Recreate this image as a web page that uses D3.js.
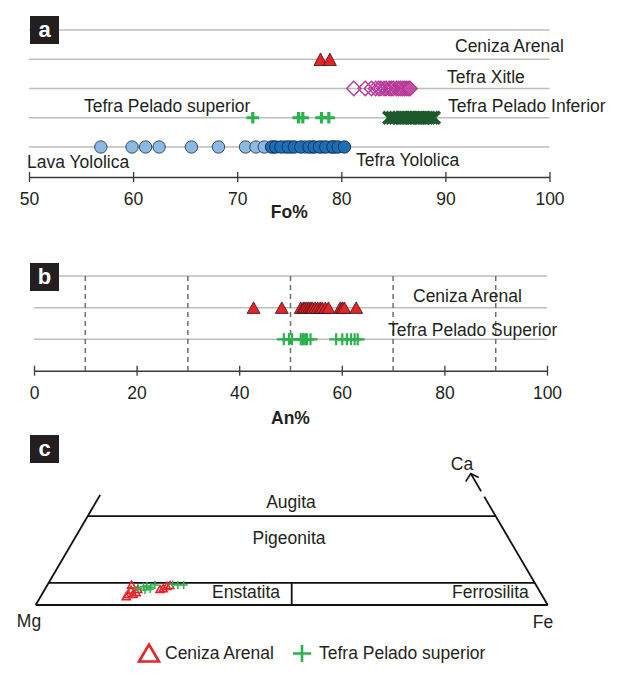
<!DOCTYPE html>
<html>
<head>
<meta charset="utf-8">
<script src="https://cdn.jsdelivr.net/npm/d3@7"></script>
<style>
  body { margin: 0; background: #fff; }
  svg text { font-family: "Liberation Sans", Arial, sans-serif; fill: #231f20; }
</style>
</head>
<body>
<script>
"use strict"

/* global d3 */

// panel a: olivine Fo%
const rowsFo  = ["top", "Ceniza Arenal", "Tefra Xitle", "Tefra Pelado", "Yololica"]
const ticksFo = [50, 60, 70, 80, 90, 100]

const foCenizaArenal   = [78.0, 78.9]
const foTefraXitle     = [81.2, 82.3, 82.9, 83.3, 83.6, 83.8, 84.1, 84.3, 84.6, 84.8, 85.0, 85.3, 85.5, 85.7, 85.9, 86.1, 86.3, 86.5, 86.6]
const foPeladoSuperior = [71.5, 75.9, 76.3, 78.1, 78.8]
const foPeladoInferior = [84.6, 84.9, 85.2, 85.5, 85.8, 86.0, 86.3, 86.6, 86.8, 87.1, 87.4, 87.6, 87.9, 88.2, 88.4, 88.7, 88.9]
const foLavaYololica   = [56.9, 59.9, 61.2, 62.5, 65.6, 68.2, 70.8, 71.8, 72.6, 73.5, 74.6, 75.2, 76.5, 77.2, 78.2, 79.0, 79.4]
const foTefraYololica  = [73.3, 73.7, 74.2, 74.9, 75.5, 76.1, 76.9, 77.4, 77.9, 78.5, 79.2, 79.7, 80.3]

// panel b: plagioclase An%
const rowsAn   = ["top", "Ceniza Arenal", "Tefra Pelado Superior"]
const ticksAn  = [0, 20, 40, 60, 80, 100]
const dashesAn = [10, 30, 50, 70, 90]

const anCenizaArenal   = [42.8, 48.3, 52.0, 52.5, 52.8, 53.2, 53.6, 54.0, 54.3, 54.8, 55.3, 55.8, 56.2, 56.8, 57.4, 59.7, 60.1, 60.5, 62.8]
const anPeladoSuperior = [48.7, 49.7, 50.3, 52.0, 52.4, 52.6, 53.0, 53.2, 53.9, 58.9, 60.1, 61.0, 61.8, 62.5, 63.1]

// panel c: pyroxene quadrilateral, [Wo %, Fe/(Mg+Fe)]
const woLevels = [0, 5, 20]
const pxCenizaArenal = [[2.5, 0.172], [3.4, 0.175], [2.5, 0.182], [4.6, 0.172], [2.9, 0.187], [2.0, 0.170], [3.6, 0.188],
                        [3.8, 0.239], [4.3, 0.245], [4.5, 0.251], [3.6, 0.233]]
const pxPeladoSuperior = [[3.8, 0.188], [4.1, 0.198], [4.3, 0.204], [4.0, 0.213], [4.5, 0.220], [3.4, 0.203], [3.6, 0.213],
                          [4.7, 0.256], [4.5, 0.267], [4.5, 0.279]]

// colours
const red       = "#e42528"
const magenta   = "#b8399a"
const green     = "#2bb24c"
const darkGreen = "#1c5a2c"
const lightBlue = "#8bb9e2"
const darkBlue  = "#1c6eb6"
const ink       = "#231f20"

// marker shapes
const tri     = (w, h) => `M0,${-h / 2}L${w / 2},${h / 2}L${-w / 2},${h / 2}Z`
const plus    = (w, h) => `M${-w / 2},0H${w / 2}M0,${-h / 2}V${h / 2}`
const cross   = s => `M${-s},${-s}L${s},${s}M${-s},${s}L${s},${-s}`
const diamond = s => `M0,${-s}L${s},0L0,${s}L${-s},0Z`

const translate = (x, y) => `translate(${x} ${y})`

const svg = d3.select("body").append("svg")
  .attr("width", 617)
  .attr("height", 676)

const label = (txt, x, y, anchor = "start", size = 17.5, weight = "normal") =>
  svg.append("text")
    .attr("x", x).attr("y", y)
    .attr("text-anchor", anchor)
    .attr("font-size", size)
    .attr("font-weight", weight)
    .text(txt)

const panelBox = (letter, x, y) => {
  svg.append("rect").attr("x", x).attr("y", y).attr("width", 29).attr("height", 28).attr("fill", ink)
  svg.append("text")
    .attr("x", x + 14.5).attr("y", y + 21)
    .attr("text-anchor", "middle")
    .attr("font-size", 22)
    .attr("font-weight", "bold")
    .style("fill", "#fff")
    .text(letter)
}

const bottomAxis = (scale, ticks, y) => {
  const g = svg.append("g")
    .attr("transform", translate(0, y))
    .call(d3.axisBottom(scale).tickValues(ticks).tickSizeOuter(0).tickFormat(d3.format("d")))
  g.select(".domain").attr("stroke", "#3a3a3a").attr("stroke-width", 1.5)
  g.selectAll(".tick line").attr("y1", -5).attr("y2", 5).attr("stroke", "#3a3a3a").attr("stroke-width", 1.3)
  g.selectAll(".tick text").attr("y", 28).attr("dy", null).attr("font-size", 17.5)
    .attr("font-family", "Liberation Sans, Arial, sans-serif").attr("fill", ink)
  return g
}

const marks = (values, x, y, path, style) =>
  svg.append("g").selectAll("path")
    .data(values)
    .enter()
    .append("path")
    .attr("d", path)
    .attr("transform", d => translate(x(d), y))
    .attr("fill", style.fill || "none")
    .attr("stroke", style.stroke)
    .attr("stroke-width", style.width || 1)

// ---------------- panel a ----------------
const xa = d3.scaleLinear().domain([50, 100]).range([29, 549.5])
const ya = d3.scalePoint().domain(rowsFo).range([30, 147])

svg.append("g").selectAll("line")
  .data(rowsFo)
  .enter()
  .append("line")
  .attr("x1", xa(50)).attr("x2", xa(100))
  .attr("y1", d => ya(d)).attr("y2", d => ya(d))
  .attr("stroke", "#bdbdbd").attr("stroke-width", 1.5)

panelBox("a", 30, 16)
bottomAxis(xa, ticksFo, 177)
label("Fo%", (xa(50) + xa(100)) / 2, 218, "middle", 17.5, "bold")

label("Ceniza Arenal", 455, 52)
label("Tefra Xitle", 447, 83)
label("Tefra Pelado Inferior", 448, 112)
label("Tefra Pelado superior", 84, 112)
label("Lava Yololica", 27, 168)
label("Tefra Yololica", 356, 166)

marks(foCenizaArenal, xa, ya("Ceniza Arenal"), tri(13, 12.5), { fill : red, stroke : "#3b1111", width : 0.8 })
marks(foTefraXitle, xa, ya("Tefra Xitle"), diamond(7.2), { stroke : magenta, width : 1.4 })
marks(foPeladoSuperior, xa, ya("Tefra Pelado"), plus(12.5, 11.5), { stroke : green, width : 3.2 })
marks(foPeladoInferior, xa, ya("Tefra Pelado"), cross(6), { stroke : darkGreen, width : 3.2 })

svg.append("g").selectAll("circle")
  .data(foLavaYololica)
  .enter()
  .append("circle")
  .attr("cx", d => xa(d)).attr("cy", ya("Yololica")).attr("r", 6.2)
  .attr("fill", lightBlue).attr("stroke", "#2a3f55").attr("stroke-width", 0.9)

svg.append("g").selectAll("circle")
  .data(foTefraYololica)
  .enter()
  .append("circle")
  .attr("cx", d => xa(d)).attr("cy", ya("Yololica")).attr("r", 6.2)
  .attr("fill", darkBlue).attr("stroke", "#0d2a45").attr("stroke-width", 0.9)

// ---------------- panel b ----------------
const xb = d3.scaleLinear().domain([0, 100]).range([34, 547])
const yb = d3.scalePoint().domain(rowsAn).range([276, 339.3])
const axisB = 370.7

svg.append("g").selectAll("line")
  .data(rowsAn)
  .enter()
  .append("line")
  .attr("x1", xb(0)).attr("x2", xb(100))
  .attr("y1", d => yb(d)).attr("y2", d => yb(d))
  .attr("stroke", "#bdbdbd").attr("stroke-width", 1.5)

svg.append("g").selectAll("line")
  .data(dashesAn)
  .enter()
  .append("line")
  .attr("x1", d => xb(d)).attr("x2", d => xb(d))
  .attr("y1", yb("top")).attr("y2", axisB)
  .attr("stroke", "#6e6e6e").attr("stroke-width", 1.5)
  .attr("stroke-dasharray", "5,4")

panelBox("b", 30, 263)
bottomAxis(xb, ticksAn, axisB)
label("An%", (xb(0) + xb(100)) / 2, 424, "middle", 17.5, "bold")

label("Ceniza Arenal", 413, 302)
label("Tefra Pelado Superior", 388, 336)

marks(anCenizaArenal, xb, yb("Ceniza Arenal"), tri(13, 11.5), { fill : red, stroke : "#3b1111", width : 0.8 })
marks(anPeladoSuperior, xb, yb("Tefra Pelado Superior"), plus(14, 12), { stroke : green, width : 2.2 })

// ---------------- panel c ----------------
const yc     = d3.scaleLinear().domain([0, 25]).range([605, 494])
const leftC  = d3.scaleLinear().domain([0, 25]).range([35.7, 100.7])
const rightC = d3.scaleLinear().domain([0, 25]).range([547.7, 482.7])
const quad   = ([wo, fe]) => [leftC(wo) + fe * (rightC(wo) - leftC(wo)), yc(wo)]
const lineC  = d3.line().x(d => quad(d)[0]).y(d => quad(d)[1])

panelBox("c", 30, 435)

const outline = svg.append("g")
  .attr("fill", "none")
  .attr("stroke", "#111")
  .attr("stroke-width", 1.8)

woLevels.forEach(wo => outline.append("path").attr("d", lineC([[wo, 0], [wo, 1]])))
outline.append("path").attr("d", lineC([[0, 0], [24.8, 0]]))
outline.append("path").attr("d", lineC([[0, 1], [24.4, 1]]))
outline.append("path").attr("d", lineC([[0, 0.5], [5, 0.5]]))
outline.append("path").attr("d", lineC([[25.6, 1], [29.6, 1]]))

// arrow head toward Ca
const tip = quad([29.6, 1])
svg.append("path")
  .attr("d", `M${tip[0] - 5},${tip[1] + 8}L${tip[0]},${tip[1]}L${tip[0] + 8},${tip[1] + 4}`)
  .attr("fill", "none").attr("stroke", "#111").attr("stroke-width", 1.6)

label("Ca", 462, 470, "middle")
label("Augita", 291, 508, "middle")
label("Pigeonita", 289, 544, "middle")
label("Enstatita", 212, 598)
label("Ferrosilita", 452, 598)
label("Mg", 29, 627, "middle")
label("Fe", 543, 628, "middle")

const pointsC = (data, path, color, width) =>
  svg.append("g").selectAll("path")
    .data(data)
    .enter()
    .append("path")
    .attr("d", path)
    .attr("transform", d => translate(...quad(d)))
    .attr("fill", "none")
    .attr("stroke", color)
    .attr("stroke-width", width)

pointsC(pxCenizaArenal, tri(8, 7), red, 1.6)
pointsC(pxPeladoSuperior, plus(8, 8), green, 1.5)

// legend
svg.append("path").attr("d", tri(20, 17)).attr("transform", translate(149, 653))
  .attr("fill", "none").attr("stroke", red).attr("stroke-width", 2.6)
label("Ceniza Arenal", 165, 659)
svg.append("path").attr("d", plus(18, 17)).attr("transform", translate(302, 653.5))
  .attr("fill", "none").attr("stroke", green).attr("stroke-width", 2.6)
label("Tefra Pelado superior", 319, 659)
</script>
</body>
</html>
